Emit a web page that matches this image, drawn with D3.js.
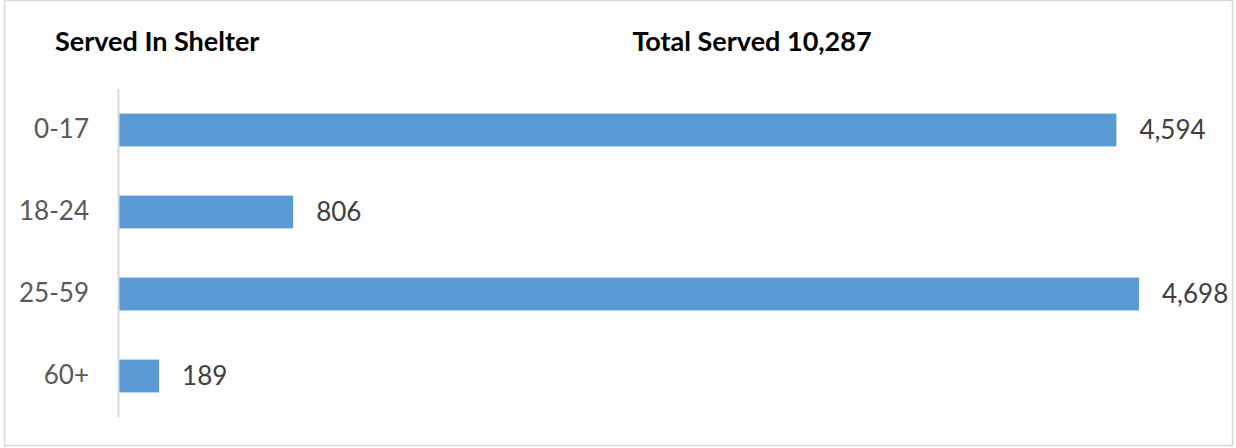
<!DOCTYPE html>
<html>
<head>
<meta charset="utf-8">
<script src="https://cdn.jsdelivr.net/npm/d3@7"></script>
<style>
  body { margin: 0; background: #fff; }
  svg { display: block; font-family: Lato, "Open Sans", sans-serif; }
</style>
</head>
<body>
<div id="chart"></div>
<script>
const categories = ['0-17', '18-24', '25-59', '60+'];
const served = [4594, 806, 4698, 189];
const titleLeft = 'Served In Shelter';
const titleCenter = 'Total Served 10,287';

const width = 1236;
const height = 448;
const margin = { top: 89, right: 97, bottom: 31, left: 118 };

const svg = d3.select('#chart')
    .append('svg')
    .attr('width', width)
    .attr('height', height);

// chart frame
svg.append('rect')
    .attr('x', 4.5)
    .attr('y', 0.5)
    .attr('width', 1228)
    .attr('height', 445)
    .attr('fill', '#fff')
    .attr('stroke', '#d9d9d9')
    .attr('stroke-width', 1.5);

const x = d3.scaleLinear()
    .domain([0, 4698])
    .range([margin.left, 1139]);

const y = d3.scaleBand()
    .domain(categories)
    .range([margin.top, height - margin.bottom])
    .paddingInner(0.6)
    .paddingOuter(0.3);

svg.append('text')
    .attr('x', 55)
    .attr('y', 51)
    .attr('font-size', 27)
    .attr('font-weight', 'bold')
    .attr('fill', '#000')
    .text(titleLeft);

svg.append('text')
    .attr('x', 752)
    .attr('y', 51)
    .attr('text-anchor', 'middle')
    .attr('font-size', 27)
    .attr('font-weight', 'bold')
    .attr('fill', '#000')
    .text(titleCenter);

const rows = categories.map((c, i) => ({ cat: c, value: served[i] }));

svg.selectAll('rect.bar')
    .data(rows)
    .enter()
    .append('rect')
    .attr('class', 'bar')
    .attr('x', x(0))
    .attr('y', d => y(d.cat))
    .attr('width', d => x(d.value) - x(0))
    .attr('height', y.bandwidth())
    .attr('fill', '#5b9bd5');

// value labels
svg.selectAll('text.val')
    .data(rows)
    .enter()
    .append('text')
    .attr('class', 'val')
    .attr('x', d => x(d.value) + 23)
    .attr('y', d => y(d.cat) + y.bandwidth() / 2)
    .attr('dy', '0.35em')
    .attr('font-size', 26)
    .attr('fill', '#404040')
    .text(d => d3.format(',')(d.value));

// y axis
const yAxis = svg.append('g')
    .attr('transform', `translate(${margin.left},0)`)
    .call(d3.axisLeft(y).tickSize(0).tickPadding(29));
yAxis.select('.domain').attr('stroke', '#d9d9d9').attr('stroke-width', 2);
yAxis.selectAll('text')
    .attr('font-size', 26)
    .attr('font-family', 'Lato, "Open Sans", sans-serif')
    .attr('fill', '#595959');
</script>
</body>
</html>
